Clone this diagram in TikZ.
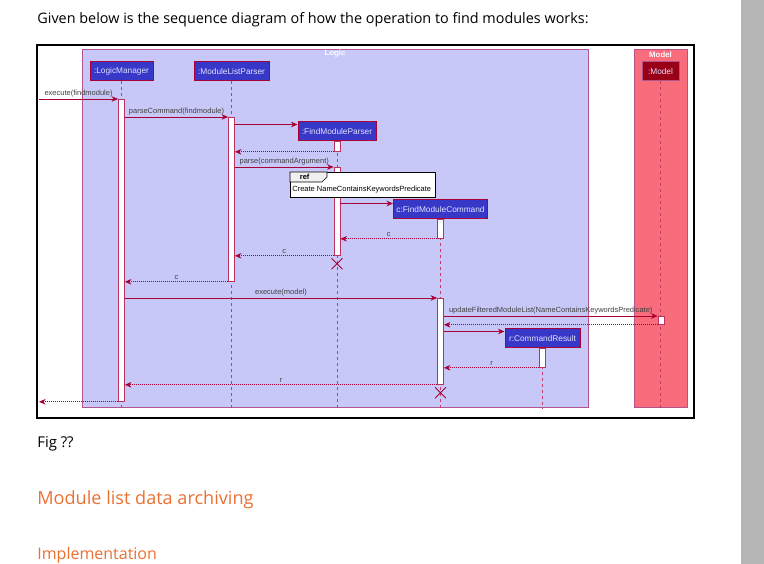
\documentclass[tikz,border=0pt]{standalone}
\usepackage{fontspec}
\setmainfont{Open Sans}
\newfontfamily\umlfont{Liberation Sans}
\usetikzlibrary{arrows.meta,shapes.misc,calc}

\definecolor{umlred}{RGB}{168,0,54}
\definecolor{logicfill}{RGB}{200,200,248}
\definecolor{groupline}{RGB}{180,84,140}
\definecolor{modelfill}{RGB}{248,108,124}
\definecolor{partblue}{RGB}{56,56,200}
\definecolor{partdark}{RGB}{152,0,24}
\definecolor{parttext}{RGB}{226,226,255}
\definecolor{headorange}{RGB}{234,112,50}
\definecolor{scrollgray}{RGB}{182,182,182}

\tikzset{every picture/.style={line width=0.75pt},
  part/.style={draw=umlred, fill=partblue, line width=1pt, minimum height=19, inner sep=1pt,
    text=parttext, font=\umlfont\fontsize{8.3}{9}\selectfont},
  lifeline/.style={draw=umlred!75, dash pattern=on 3pt off 3pt, line width=0.6pt},
  actbar/.style={draw=umlred!80, fill=white, minimum width=6, inner sep=0pt, anchor=north, line width=0.8pt},
  msg/.style={draw=umlred, line width=0.6pt, -{Stealth[length=6.5pt,width=5.5pt,inset=2pt]}},
  retmsg/.style={msg, dash pattern=on 1pt off 1pt},
  msglbl/.style={text=black!75, font=\umlfont\fontsize{7.5}{8}\selectfont, inner sep=1.5pt},
  destroy/.style={draw=umlred, cross out, minimum size=10, inner sep=0pt, line width=0.9pt},
  grouplbl/.style={text=white!92!logicfill, font=\umlfont\bfseries\fontsize{7.8}{8}\selectfont},
  pagetxt/.style={anchor=west, inner sep=0pt}
}

\begin{document}
\begin{tikzpicture}[x=1pt,y=1pt,yscale=-1]
        \useasboundingbox (0,0) rectangle (764,564);
        % scroll bar
        \fill[scrollgray] (741,0) rectangle (764,564);

        % Text Node
        \node[pagetxt, font=\fontsize{14.4}{17}\selectfont] (intro) at (37,20) {Given below is the sequence diagram of how the operation to find modules works:};

        % diagram frame and groups
        \draw[line width=1.2pt] (37,45) rectangle (694,418);
        \draw[groupline, fill=logicfill, line width=0.8pt] (82,49) rectangle (588,407);
        \node[grouplbl] (logicLbl) at (335,54) {Logic};
        \draw[groupline, fill=modelfill, line width=0.8pt] (634,49) rectangle (687,407);
        \node[grouplbl] (modelLbl) at (660.5,55) {Model};

        % participants
        \node[part, minimum width=63] (lm) at (121.5,71.5) {:LogicManager};
        \node[part, minimum width=75] (mlp) at (231.5,71.5) {:ModuleListParser};
        \node[part, minimum width=78] (fmp) at (337,131.5) {:FindModuleParser};
        \node[part, minimum width=94] (fmc) at (440.5,209.5) {c:FindModuleCommand};
        \node[part, minimum width=75] (cr) at (542.5,338.5) {r:CommandResult};
        \node[part, fill=partdark, draw=groupline, minimum width=37] (mdl) at (660.5,71.5) {:Model};

        % lifelines
        \coordinate (bottom) at (0,409);
        \foreach \p in {lm,mlp,fmp,fmc,cr,mdl}
          \draw[lifeline] (\p.south) -- (\p.south |- bottom);

        % activation bars
        \node[actbar, minimum height=302] (lmBar) at (121.5,99) {};
        \node[actbar, minimum height=164] (mlBar) at (231.5,117) {};
        \node[actbar, minimum height=10] (fmpBar1) at (337,141) {};
        \node[actbar, minimum height=88] (fmpBar2) at (337,167) {};
        \node[actbar, minimum height=19] (fmcBar1) at (440.5,219) {};
        \node[actbar, minimum height=86] (fmcBar2) at (440.5,298) {};
        \node[actbar, minimum height=8] (mdBar) at (661,316) {};
        \node[actbar, minimum height=19] (crBar) at (542.5,348) {};

        \coordinate (gate) at (39,99);
        \coordinate (fmpIn) at ([yshift=3pt]fmp.north west);
        \coordinate (fmcIn) at ([yshift=4pt]fmc.north west);
        \coordinate (crIn) at ([yshift=3pt]cr.north west);

        % messages
        \draw[msg] (gate |- lmBar.north) -- node[msglbl, above] {execute(findmodule)} (lmBar.north west);
        \draw[msg] (lmBar.east |- mlBar.north) -- node[msglbl, above] {parseCommand(findmodule)} (mlBar.north west);
        \draw[msg] (mlBar.east |- fmpIn) -- (fmpIn);
        \draw[retmsg] (fmpBar1.south west) -- (mlBar.east |- fmpBar1.south);
        \draw[msg] (mlBar.east |- fmpBar2.north) -- node[msglbl, above] {parse(commandArgument)} (fmpBar2.north west);
        \draw[msg] (fmpBar2.east |- fmcIn) -- (fmcIn);
        \draw[retmsg] (fmcBar1.south west) -- node[msglbl, above] {c} (fmpBar2.east |- fmcBar1.south);
        \draw[retmsg] (fmpBar2.south west) -- node[msglbl, above] {c} (mlBar.east |- fmpBar2.south);
        \draw[retmsg] (mlBar.south west) -- node[msglbl, above] {c} (lmBar.east |- mlBar.south);
        \draw[msg] (lmBar.east |- fmcBar2.north) -- node[msglbl, above] {execute(model)} (fmcBar2.north west);
        \draw[msg] (fmcBar2.east |- mdBar.north) -- node[msglbl, above] {updateFilteredModuleList(NameContainsKeywordsPredicate)} (mdBar.north west);
        \draw[retmsg] (mdBar.south west) -- (fmcBar2.east |- mdBar.south);
        \draw[msg] (fmcBar2.east |- crIn) -- (crIn);
        \draw[retmsg] (crBar.south west) -- node[msglbl, above] {r} (fmcBar2.east |- crBar.south);
        \draw[retmsg] (fmcBar2.south west) -- node[msglbl, above] {r} (lmBar.east |- fmcBar2.south);
        \draw[retmsg] (lmBar.south west) -- (gate |- lmBar.south);

        % ref frame
        \node[draw, fill=white, line width=0.9pt, minimum width=145, minimum height=25, anchor=north west, inner sep=0pt] (refBox) at (290,172) {};
        \draw[line width=0.7pt, fill=black!6] (refBox.north west) -- ++(37,0) -- ++(0,5) -- ++(-5,5) -- ++(-32,0) -- cycle;
        \node[msglbl, text=black, font=\umlfont\bfseries\fontsize{7.5}{8}\selectfont, anchor=west] (refTag) at ([xshift=8pt,yshift=5pt]refBox.north west) {ref};
        \node[msglbl, text=black, anchor=west] (refTxt) at ([xshift=0.5pt,yshift=18pt]refBox.north west) {Create NameContainsKeywordsPredicate};

        % destroyed objects
        \node[destroy] (fmpX) at ($(fmpBar2.south)+(0,8)$) {};
        \node[destroy] (fmcX) at ($(fmcBar2.south)+(0,8)$) {};

        % Text Node
        \node[pagetxt, font=\fontsize{14.9}{17}\selectfont] (figCap) at (37,444) {Fig ??};
        \node[pagetxt, text=headorange, font=\fontsize{18.1}{21}\selectfont] (archHead) at (37,500) {Module list data archiving};
        \node[pagetxt, text=headorange, font=\fontsize{16}{19}\selectfont] (implHead) at (37,555) {Implementation};
\end{tikzpicture}
\end{document}
